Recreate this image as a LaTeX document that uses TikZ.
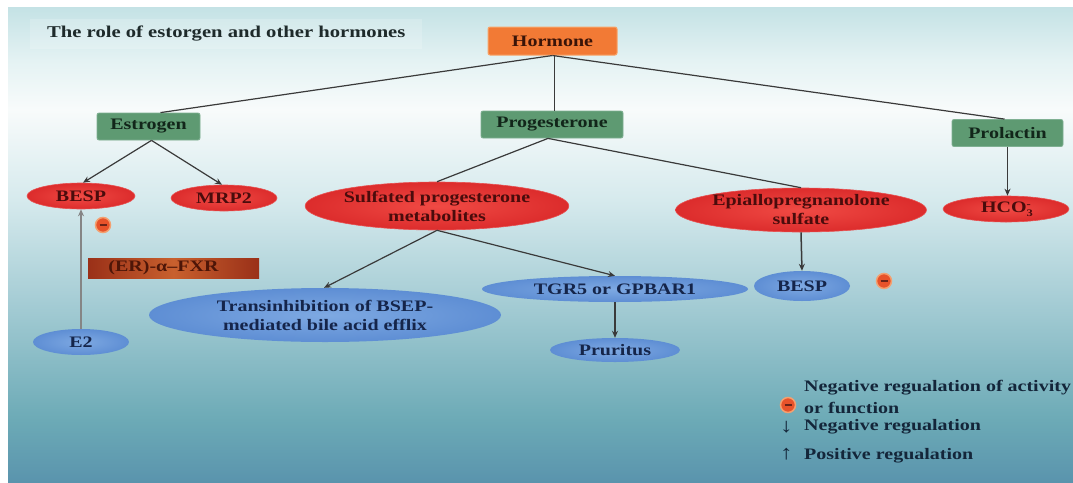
\documentclass[tikz,border=0pt]{standalone}
\usepackage{fontspec}
\setmainfont{Liberation Serif}[FakeStretch=1.25]
\usetikzlibrary{shapes.geometric,arrows.meta,calc}
\definecolor{bgA}{HTML}{5A94AD}
\definecolor{bgB}{HTML}{6CAAB6}
\definecolor{bgC}{HTML}{A6CDD5}
\definecolor{bgD}{HTML}{D6EAED}
\definecolor{bgE}{HTML}{F8FBFB}
\definecolor{bgF}{HTML}{E4F2F3}
\definecolor{bgG}{HTML}{C4E2E5}
\definecolor{horange}{HTML}{F27A35}
\definecolor{horangeedge}{HTML}{F8A468}
\definecolor{hortext}{HTML}{3A1408}
\definecolor{gfill}{HTML}{5E9A72}
\definecolor{gedge}{HTML}{7FB092}
\definecolor{gtext}{HTML}{12261A}
\definecolor{rin}{HTML}{F04A44}
\definecolor{rout}{HTML}{DC2C2C}
\definecolor{redge}{HTML}{E85050}
\definecolor{rtext}{HTML}{4A0C0C}
\definecolor{bin}{HTML}{7EA9E2}
\definecolor{bout}{HTML}{5E8ED4}
\definecolor{btext}{HTML}{15254A}
\definecolor{linec}{HTML}{3A3A3A}
\definecolor{grayline}{HTML}{858585}
\definecolor{negfill}{HTML}{E8532A}
\definecolor{negglow}{HTML}{F4A070}
\definecolor{negtext}{HTML}{6A2418}
\definecolor{erL}{HTML}{9A3018}
\definecolor{erM}{HTML}{C8602E}
\definecolor{ertext}{HTML}{4E1608}
\definecolor{titlec}{HTML}{1E2A2A}
\definecolor{legc}{HTML}{14263A}
\pgfdeclareverticalshading{bgshade}{100bp}{color(0bp)=(bgA); color(25bp)=(bgA); color(31.5bp)=(bgB); color(44.2bp)=(bgC); color(54.7bp)=(bgD); color(64.2bp)=(bgE); color(69.4bp)=(bgF); color(75bp)=(bgG); color(100bp)=(bgG)}
\pgfdeclarehorizontalshading{ershade}{100bp}{color(0bp)=(erL); color(25bp)=(erL); color(50bp)=(erM); color(75bp)=(erL); color(100bp)=(erL)}
\begin{document}
\begin{tikzpicture}[x=1pt,y=-1pt,
  every node/.style={font=\fontsize{16}{19}\selectfont\bfseries, inner sep=0pt, align=center},
  hbox/.style={rectangle, rounded corners=2pt, fill=horange, draw=horangeedge, line width=1pt, text=hortext, minimum width=129pt, minimum height=28pt},
  gbox/.style={rectangle, rounded corners=2pt, fill=gfill, draw=gedge, line width=0.8pt, text=gtext, minimum height=27pt},
  rell/.style={ellipse, inner color=rin, outer color=rout, draw=redge, line width=0.6pt, text=rtext},
  bell/.style={ellipse, inner color=bin, outer color=bout, text=btext},
  conn/.style={draw=linec, line width=1.2pt},
  arr/.style={conn, -{Stealth[length=7pt,width=6pt]}},
  neg/.style={circle, fill=negfill, draw=negglow, line width=1.5pt, minimum size=15pt,
    path picture={\draw[negtext, line width=1.6pt] ($(path picture bounding box.center)+(-3.5,0)$) -- ++(7,0);}},
  legend/.style={anchor=west, text=legc}
]
\useasboundingbox (0,0) rectangle (1073,482);
\fill[white] (0,0) rectangle (1073,482);
\shade[shading=bgshade] (8,7) rectangle (1073,482);

% title
\node[anchor=west, fill=white, fill opacity=0.18, text opacity=1, text=titlec, minimum height=30pt, inner xsep=17pt, font=\fontsize{16.5}{19}\selectfont\bfseries] (title) at (30,34) {The role of estorgen and other hormones};

% top level
\node[hbox] (hormone) at (552.5,41) {Hormone};
\node[gbox, minimum width=103pt] (estrogen) at (148.5,126.5) {Estrogen};
\node[gbox, minimum width=142pt] (progesterone) at (552,124.5) {Progesterone};
\node[gbox, minimum width=111pt] (prolactin) at (1007.5,133) {Prolactin};

% red ellipses
\node[rell, minimum width=108pt, minimum height=26pt] (besp) at (81,196) {BESP};
\node[rell, minimum width=106pt, minimum height=26pt] (mrp2) at (224,198) {MRP2};
\node[rell, minimum width=260pt, minimum height=48pt] (sulf) at (437,206) {Sulfated progesterone\\metabolites};
\node[rell, minimum width=245pt, minimum height=44pt] (epi) at (801,210) {Epiallopregnanolone\\sulfate};
\node[rell, minimum width=126pt, minimum height=26pt] (hco) at (1006,209) {HCO\rlap{\raisebox{-4pt}{\fontsize{10}{10}\selectfont\bfseries 3}}\raisebox{5pt}{\fontsize{10}{10}\selectfont\bfseries -}};

% blue ellipses
\node[bell, minimum width=96pt, minimum height=26pt] (e2) at (81,342) {E2};
\node[bell, minimum width=352pt, minimum height=54pt] (trans) at (325,315) {Transinhibition of BSEP-\\mediated bile acid efflix};
\node[bell, minimum width=266pt, minimum height=26pt] (tgr) at (615,289) {TGR5 or GPBAR1};
\node[bell, minimum width=96pt, minimum height=30pt] (besp2) at (802,286) {BESP};
\node[bell, minimum width=130pt, minimum height=24pt] (prur) at (615,350) {Pruritus};

% ER box
\node[rectangle, shading=ershade, minimum width=171pt, minimum height=20pt, text=ertext] (er) at (173.5,268) {\hspace*{-20pt}(ER)-α–FXR};

% negative markers
\node[neg] (neg1) at (103,225) {};
\node[neg] (neg2) at (884,281) {};
\node[neg] (neg3) at (788,405) {};

% connectors
\draw[conn] (hormone.south) -- ([xshift=12pt]estrogen.north);
\draw[conn] ([xshift=2pt]hormone.south) -- ([xshift=2pt]hormone.south |- progesterone.north);
\draw[conn] (hormone.south) -- ([xshift=-3pt]prolactin.north);
\draw[arr] ([xshift=3pt]estrogen.south) -- ([xshift=2pt]besp.north);
\draw[arr] ([xshift=3pt]estrogen.south) -- ([xshift=-2pt]mrp2.north);
\draw[conn] ([xshift=-4pt]progesterone.south) -- (sulf.north);
\draw[conn] ([xshift=-4pt]progesterone.south) -- (epi.north);
\draw[arr, line width=1.8pt] (prolactin.south) -- (prolactin.south |- hco.north);
\draw[arr] (sulf.south) -- ([xshift=-1pt]trans.north);
\draw[arr] (sulf.south) -- (tgr.north);
\draw[arr, line width=1.5pt] (epi.south) -- (besp2.north);
\draw[arr, line width=1.8pt] (tgr.south) -- (prur.north);
\draw[arr, draw=grayline, line width=2pt] (e2.north) -- (besp.south);

% legend
\node[legend] (l1) at (804,388) {Negative regualation of activity};
\node[legend] (l2) at (804,408) {or function};
\node[legend, font=\fontsize{20}{20}\selectfont] (l3a) at (780,427) {↓};
\node[legend] (l3) at (804,427) {Negative regualation};
\node[legend, font=\fontsize{20}{20}\selectfont] (l4a) at (780,454) {↑};
\node[legend] (l4) at (804,456) {Positive regualation};
\end{tikzpicture}
\end{document}
